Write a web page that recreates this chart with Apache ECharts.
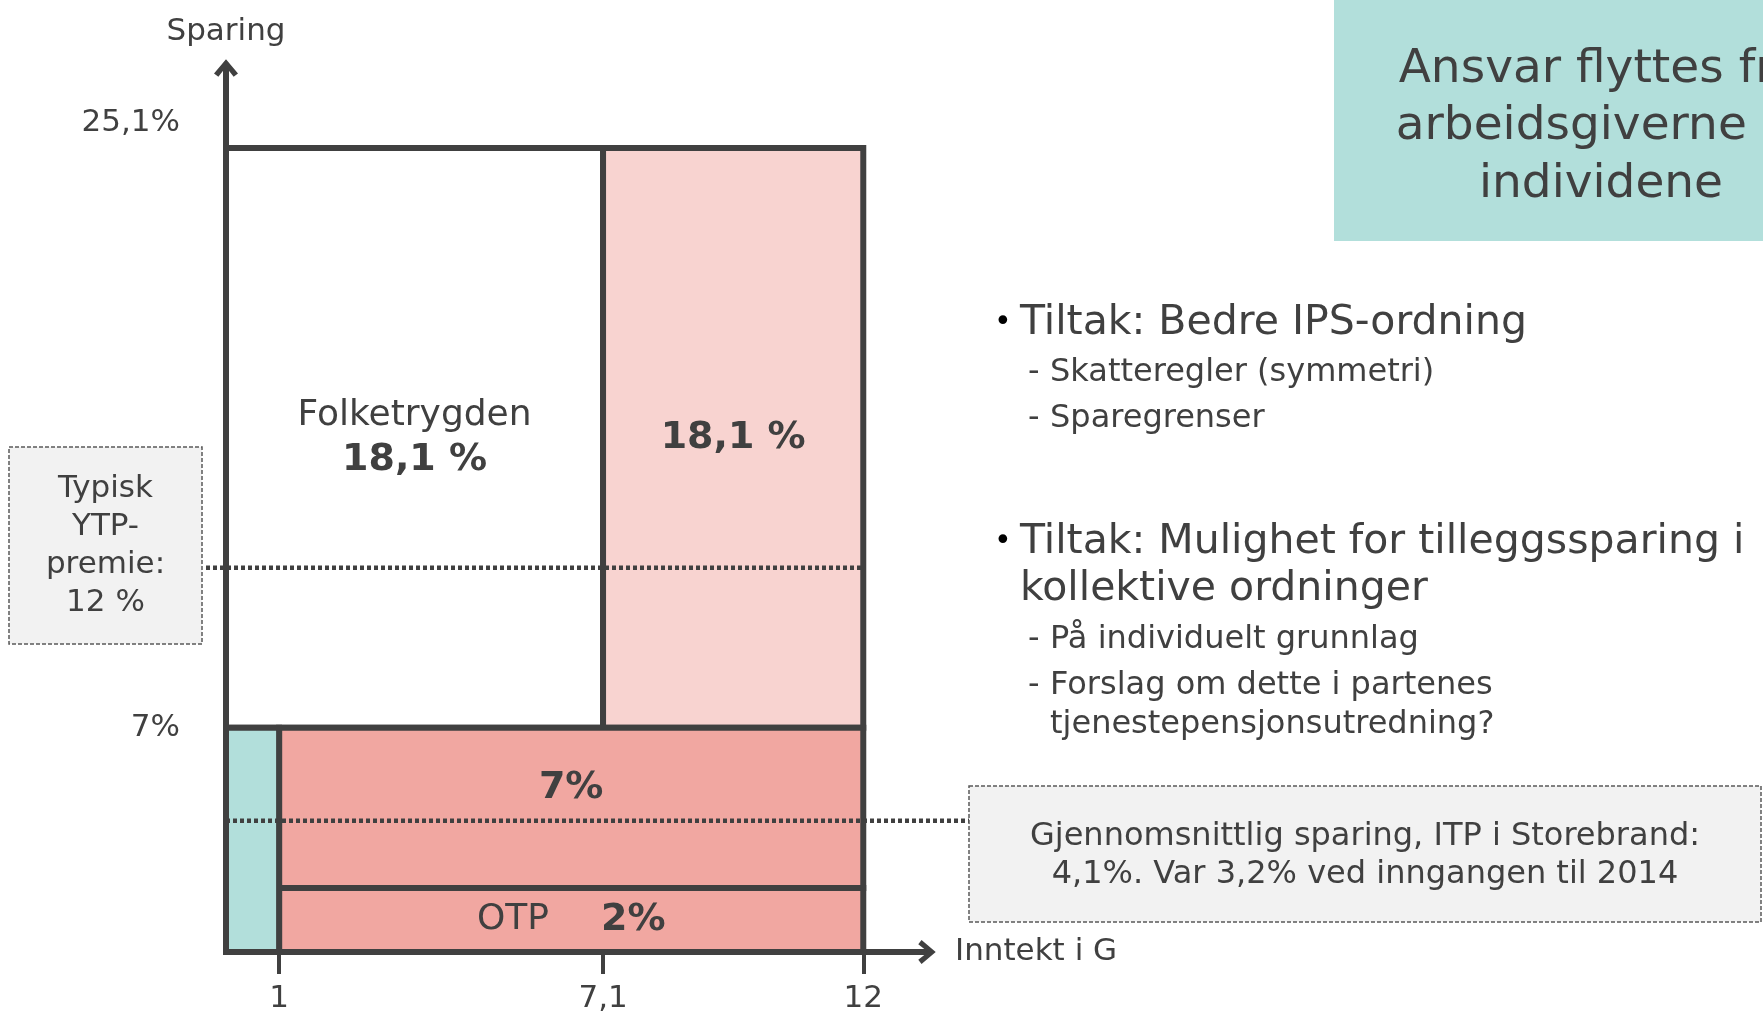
<!DOCTYPE html>
<html>
<head>
<meta charset="UTF-8">
<title>Sparing og inntekt i G</title>
<script type="text/javascript" src="https://cdn.jsdelivr.net/npm/echarts@6/dist/echarts.min.js"></script>
<style type="text/css">
html, body {
	margin: 0;
	padding: 0;
	background-color: #FFFFFF;
}
#main {
	width: 1763px;
	height: 1015px;
}
</style>
</head>
<body>
	<div id="main"></div>
<script type="text/javascript">
	// axis ticks
	var incomeTicks = [1, 7.1, 12];
	var incomeTickLabels = ['1', '7,1', '12'];
	var savingTicks = [7, 25.1];
	var savingTickLabels = ['7%', '25,1%'];

	// blocks (income from-to in G, saving from-to in %)
	var blockIncomeFrom = [0, 7.1, 1, 1, 0];
	var blockIncomeTo = [7.1, 12, 12, 12, 1];
	var blockSavingFrom = [7, 7, 2, 0, 0];
	var blockSavingTo = [25.1, 25.1, 7, 2, 7];
	var blockLabels = ['Folketrygden\n{b|18,1 %}', '{b|18,1 %}', '{b|7%}', 'OTP{b2|2%}', ''];

	// reference levels (typisk YTP-premie, gjennomsnittlig ITP-sparing)
	var refLevels = [12, 4.1];

	var FONT = '"DejaVu Sans", Verdana, sans-serif';
	var TXT = '#404040';
	var LINE = '#404040';
	var blockColors = ['#FFFFFF', '#F8D3D0', '#F1A7A1', '#F1A7A1', '#B2DFDB'];
	var blockLabelOffset = [[0, 0], [0, 0], [0, -20], [0, 0], [0, 0]];
	var chevron = 'path://M0,13 L11,0 L22,13 L18,16 L11,7 L4,16 Z';

	var leftBox = {x: 9, y: 447, w: 193, h: 197};
	var rightBox = {x: 969, y: 786, w: 792, h: 136};

	var myChart = echarts.init(document.getElementById('main'));

	var blockData = [];
	for (var i = 0; i < blockLabels.length; i++) {
		blockData.push([blockIncomeFrom[i], blockIncomeTo[i], blockSavingFrom[i], blockSavingTo[i]]);
	}

	function renderBlock(params, api) {
		var i = params.dataIndex;
		var p0 = api.coord([api.value(0), api.value(3)]);
		var p1 = api.coord([api.value(1), api.value(2)]);
		return {
			type: 'rect',
			shape: {x: p0[0], y: p0[1], width: p1[0] - p0[0], height: p1[1] - p0[1]},
			style: {fill: blockColors[i], stroke: LINE, lineWidth: 6},
			textContent: {
				style: {
					text: blockLabels[i],
					fill: TXT,
					fontSize: 36,
					fontFamily: FONT,
					align: 'center',
					verticalAlign: 'middle',
					lineHeight: 45,
					rich: {
						b: {fontSize: 38, fontWeight: 'bold', fill: TXT, fontFamily: FONT, lineHeight: 45},
						b2: {fontSize: 38, fontWeight: 'bold', fill: TXT, fontFamily: FONT, lineHeight: 45, padding: [0, 0, 0, 52]}
					}
				}
			},
			textConfig: {position: 'inside', offset: blockLabelOffset[i]}
		};
	}

	function renderRefLine(params, api) {
		var y = api.value(1);
		var a = api.coord([0, y]);
		var b = api.coord([12, y]);
		var x1 = params.dataIndex === 0 ? leftBox.x + leftBox.w + 4 : a[0];
		var x2 = params.dataIndex === 0 ? b[0] : rightBox.x;
		return {
			type: 'line',
			shape: {x1: x1, y1: a[1], x2: x2, y2: a[1]},
			style: {stroke: LINE, lineWidth: 4.5, lineDash: [4, 3]}
		};
	}

	function textEl(str, x, y, size, opts) {
		opts = opts || {};
		return {
			type: 'text',
			x: x,
			y: y,
			z: 20,
			style: {
				text: str,
				fontSize: size,
				fontFamily: FONT,
				fill: opts.fill || TXT,
				align: opts.align || 'left',
				verticalAlign: 'middle',
				lineHeight: opts.lineHeight || size * 1.2
			}
		};
	}

	var graphics = [
		{type: 'rect', z: 10, shape: {x: 1334, y: 0, width: 440, height: 241}, style: {fill: '#B2DFDB'}},
		textEl('Ansvar flyttes fra\narbeidsgiverne til\nindividene', 1601, 127, 47, {align: 'center', lineHeight: 57.5}),

		textEl('\u2022', 994, 323, 30, {fill: '#000000'}),
		textEl('Tiltak: Bedre IPS-ordning', 1020, 323, 41),
		textEl('-', 1028, 373, 32),
		textEl('Skatteregler (symmetri)', 1050, 373, 32),
		textEl('-', 1028, 419, 32),
		textEl('Sparegrenser', 1050, 419, 32),

		textEl('\u2022', 994, 542, 30, {fill: '#000000'}),
		textEl('Tiltak: Mulighet for tilleggssparing i', 1020, 542, 41),
		textEl('kollektive ordninger', 1020, 589, 41),
		textEl('-', 1028, 640, 32),
		textEl('På individuelt grunnlag', 1050, 640, 32),
		textEl('-', 1028, 686, 32),
		textEl('Forslag om dette i partenes', 1050, 686, 32),
		textEl('tjenestepensjonsutredning?', 1050, 725, 32),

		{type: 'rect', z: 10, shape: {x: leftBox.x, y: leftBox.y, width: leftBox.w, height: leftBox.h},
			style: {fill: '#F2F2F2', stroke: '#595959', lineWidth: 1.5, lineDash: [4, 2]}},
		textEl('Typisk\nYTP-\npremie:\n12 %', leftBox.x + leftBox.w / 2, leftBox.y + leftBox.h / 2, 31, {align: 'center', lineHeight: 38}),

		{type: 'rect', z: 10, shape: {x: rightBox.x, y: rightBox.y, width: rightBox.w, height: rightBox.h},
			style: {fill: '#F2F2F2', stroke: '#595959', lineWidth: 1.5, lineDash: [4, 2]}},
		textEl('Gjennomsnittlig sparing, ITP i Storebrand:\n4,1%. Var 3,2% ved inngangen til 2014', rightBox.x + rightBox.w / 2, 856, 32, {align: 'center', lineHeight: 38})
	];

	var option = {
		animation: false,
		backgroundColor: '#FFFFFF',
		textStyle: {fontFamily: FONT},
		grid: {
			left: 226,
			right: 836,
			top: 68,
			bottom: 63,
			outerBoundsMode: 'none'
		},
		xAxis: {
			type: 'value',
			min: 0,
			max: 13.2,
			name: 'Inntekt i G',
			nameLocation: 'end',
			nameGap: 28,
			nameTextStyle: {fontSize: 31, color: TXT, fontFamily: FONT, align: 'left', verticalAlign: 'middle'},
			splitLine: {show: false},
			axisLine: {
				lineStyle: {color: LINE, width: 6},
				symbol: ['none', chevron],
				symbolSize: [24, 18]
			},
			axisTick: {
				show: true,
				customValues: incomeTicks,
				length: 22,
				lineStyle: {color: LINE, width: 4}
			},
			axisLabel: {
				customValues: incomeTicks,
				formatter: function(v) {
					return incomeTickLabels[incomeTicks.indexOf(v)];
				},
				margin: 31,
				fontSize: 31,
				color: TXT,
				fontFamily: FONT
			}
		},
		yAxis: {
			type: 'value',
			min: 0,
			max: 27.6,
			name: 'Sparing',
			nameLocation: 'end',
			nameGap: 21,
			nameTextStyle: {fontSize: 31, color: TXT, fontFamily: FONT},
			splitLine: {show: false},
			axisLine: {
				lineStyle: {color: LINE, width: 6},
				symbol: ['none', chevron],
				symbolSize: [24, 18]
			},
			axisTick: {show: false},
			axisLabel: {
				customValues: savingTicks,
				formatter: function(v) {
					var s = savingTickLabels[savingTicks.indexOf(v)];
					return v === 25.1 ? '{up|' + s + '}' : s;
				},
				margin: 46,
				fontSize: 31,
				color: TXT,
				fontFamily: FONT,
				rich: {
					up: {fontSize: 31, color: TXT, fontFamily: FONT, padding: [0, 0, 50, 0]}
				}
			}
		},
		series: [{
			type: 'custom',
			name: 'blokker',
			z: 2,
			renderItem: renderBlock,
			data: blockData
		}, {
			type: 'custom',
			name: 'referanse',
			z: 4,
			renderItem: renderRefLine,
			data: refLevels.map(function(v) { return [0, v]; })
		}],
		graphic: graphics
	};
	myChart.setOption(option);
</script>
</body>
</html>
